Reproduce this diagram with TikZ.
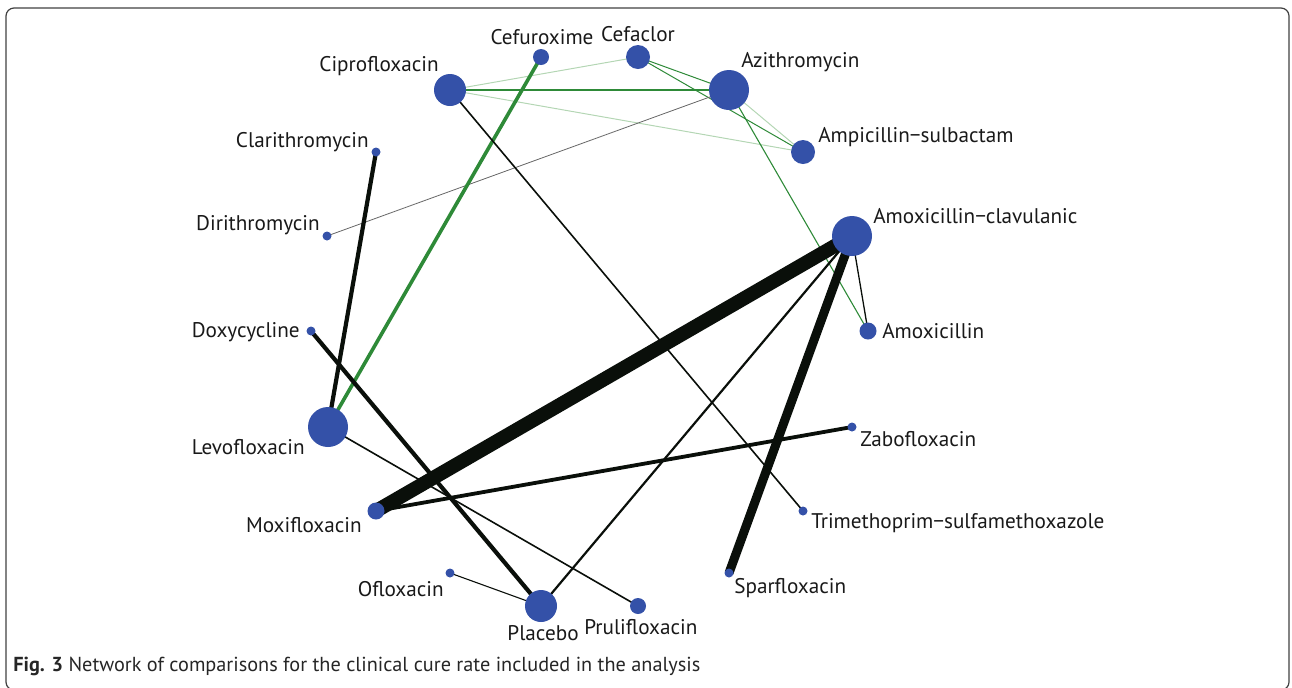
\documentclass[tikz,border=0pt]{standalone}
\usepackage{fontspec}
\setmainfont{PT Sans}
\newfontfamily\capfont{PT Sans}
\usetikzlibrary{backgrounds}
\definecolor{nodeblue}{HTML}{3451A8}
\definecolor{edgegreen}{HTML}{2E8A38}
\definecolor{lightgreen}{HTML}{B4D6B4}
\definecolor{edgeblack}{HTML}{0A0F0A}
\tikzset{
  drug/.style={circle,fill=nodeblue,inner sep=0pt,minimum size=#1*0.75pt},
  lab/.style={font=\fontsize{15.9}{18}\selectfont,inner sep=0pt,text=black!90},
  blk/.style={draw=edgeblack,line width=#1*0.75pt},
  grn/.style={draw=edgegreen,line width=#1*0.75pt},
  lgrn/.style={draw=lightgreen,line width=#1*0.75pt},
}
\begin{document}
\begin{tikzpicture}[x=0.75pt,y=-0.75pt]
\useasboundingbox (0,0) rectangle (1292,687);
\draw[line width=0.9pt,black!75,rounded corners=6pt] (6,8) rectangle (1289,690);
% nodes
\node[drug=16] (cefu) at (541,57) {};
\node[drug=24] (cefa) at (638,57) {};
\node[drug=32] (cipr) at (450,90) {};
\node[drug=40] (azit) at (729,90) {};
\node[drug=24] (ampi) at (803,152) {};
\node[drug=9]  (clar) at (376,152) {};
\node[drug=40] (amcl) at (852,236) {};
\node[drug=9]  (diri) at (327,236) {};
\node[drug=17] (amox) at (868,331) {};
\node[drug=9]  (doxy) at (311,331) {};
\node[drug=40] (levo) at (328,427) {};
\node[drug=9]  (zabo) at (852,427) {};
\node[drug=17] (moxi) at (376,511) {};
\node[drug=9]  (trim) at (803,511) {};
\node[drug=9]  (oflo) at (450,573) {};
\node[drug=9]  (spar) at (729,573) {};
\node[drug=32] (plac) at (541,606) {};
\node[drug=16] (prul) at (638,606) {};
% edges
\begin{scope}[on background layer]
\draw[lgrn=1] (cefa.center) -- (cipr.center);
\draw[lgrn=1] (cipr.center) -- (ampi.center);
\draw[lgrn=1] (azit.center) -- (ampi.center);
\draw[grn=1] (cefa.center) -- (azit.center);
\draw[grn=1] (cefa.center) -- (ampi.center);
\draw[grn=1.4] (cipr.center) -- (azit.center);
\draw[grn=1.1] (azit.center) -- (amox.center);
\draw[draw=black!60,line width=0.6pt] (azit.center) -- (diri.center);
\draw[grn=3.6] (cefu.center) -- (levo.center);
\draw[blk=1.6] (cipr.center) -- (trim.center);
\draw[blk=4.2] (clar.center) -- (levo.center);
\draw[blk=14] (amcl.center) -- (moxi.center);
\draw[blk=9] (amcl.center) -- (spar.center);
\draw[blk=2.2] (amcl.center) -- (plac.center);
\draw[blk=1.3] (amcl.center) -- (amox.center);
\draw[blk=4.2] (doxy.center) -- (plac.center);
\draw[blk=1.6] (levo.center) -- (prul.center);
\draw[blk=3.8] (moxi.center) -- (zabo.center);
\draw[blk=1.1] (oflo.center) -- (plac.center);
\end{scope}
% labels
\node[lab,anchor=center] (lcefu) at (542,37) {Cefuroxime};
\node[lab,anchor=center] (lcefa) at (638,34) {Cefaclor};
\node[lab,anchor=east] (lcipr) at (439,66) {Ciprofloxacin};
\node[lab,anchor=west] (lazit) at (741,62) {Azithromycin};
\node[lab,anchor=west] (lampi) at (818,137) {Ampicillin−sulbactam};
\node[lab,anchor=east] (lclar) at (369,142) {Clarithromycin};
\node[lab,anchor=west] (lamcl) at (873,216) {Amoxicillin−clavulanic};
\node[lab,anchor=east] (ldiri) at (320,225) {Dirithromycin};
\node[lab,anchor=west] (lamox) at (882,331) {Amoxicillin};
\node[lab,anchor=east] (ldoxy) at (300,332) {Doxycycline};
\node[lab,anchor=east] (llevo) at (305,447) {Levofloxacin};
\node[lab,anchor=west] (lzabo) at (860,439) {Zabofloxacin};
\node[lab,anchor=east] (lmoxi) at (362,525) {Moxifloxacin};
\node[lab,anchor=west] (ltrim) at (811,523) {Trimethoprim−sulfamethoxazole};
\node[lab,anchor=east] (loflo) at (444,589) {Ofloxacin};
\node[lab,anchor=west] (lspar) at (734,588) {Sparfloxacin};
\node[lab,anchor=center] (lplac) at (543,633) {Placebo};
\node[lab,anchor=west] (lprul) at (584,627) {Prulifloxacin};
\node[anchor=west,inner sep=0pt,font=\capfont\fontsize{15.2}{17}\selectfont,text=black!85] (cap) at (13,666) {\textbf{Fig. 3} Network of comparisons for the clinical cure rate included in the analysis};
\end{tikzpicture}
\end{document}
